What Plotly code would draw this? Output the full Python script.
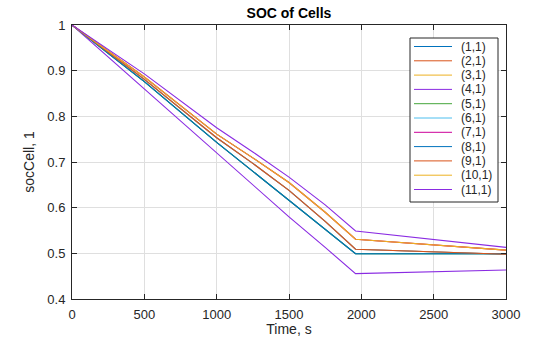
import plotly.graph_objects as go

# Simulation time samples, s
time_s = [0, 500, 1000, 1250, 1500, 1750, 1960, 3000]

# State of charge per cell
soc_1 = [1.0, 0.876, 0.743, 0.680, 0.617, 0.553, 0.499, 0.499]
soc_2 = [1.0, 0.881, 0.753, 0.697, 0.638, 0.570, 0.509, 0.498]
soc_3 = [1.0, 0.886, 0.761, 0.709, 0.655, 0.590, 0.531, 0.507]
soc_4 = [1.0, 0.860, 0.718, 0.649, 0.580, 0.513, 0.4555, 0.4635]
soc_5 = [1.0, 0.876, 0.743, 0.680, 0.617, 0.553, 0.499, 0.499]
soc_6 = [1.0, 0.881, 0.753, 0.697, 0.638, 0.570, 0.509, 0.498]
soc_7 = [1.0, 0.886, 0.761, 0.709, 0.655, 0.590, 0.531, 0.507]
soc_8 = [1.0, 0.876, 0.743, 0.680, 0.617, 0.553, 0.499, 0.499]
soc_9 = [1.0, 0.881, 0.753, 0.697, 0.638, 0.570, 0.509, 0.498]
soc_10 = [1.0, 0.886, 0.761, 0.709, 0.655, 0.590, 0.531, 0.507]
soc_11 = [1.0, 0.893, 0.775, 0.722, 0.667, 0.606, 0.549, 0.513]

series = [soc_1, soc_2, soc_3, soc_4, soc_5, soc_6, soc_7, soc_8, soc_9, soc_10, soc_11]
names = ["(1,1)", "(2,1)", "(3,1)", "(4,1)", "(5,1)", "(6,1)", "(7,1)",
         "(8,1)", "(9,1)", "(10,1)", "(11,1)"]
colors = ["#0072BD", "#D95319", "#EDB120", "#8A2BE2", "#44A63A", "#4DBEEE",
          "#CC0099", "#0072BD", "#D95319", "#EDB120", "#8A2BE2"]

x_ticks = [0, 500, 1000, 1500, 2000, 2500, 3000]
y_ticks = [0.4, 0.5, 0.6, 0.7, 0.8, 0.9, 1.0]
y_tick_text = ["0.4", "0.5", "0.6", "0.7", "0.8", "0.9", "1"]

FONT = "Liberation Sans, Arial, Helvetica, sans-serif"
INK = "#262626"
W, H = 560, 337
L, R, T, B = 72, 54, 25, 38
PW, PH = W - L - R, H - T - B

fig = go.Figure()
for vals, name, col in zip(series, names, colors):
    fig.add_trace(go.Scatter(x=time_s, y=vals, mode="lines", name=name,
                             line=dict(color=col, width=1.1), showlegend=False))

# Boxed legend drawn in paper coordinates
def px_x(p):
    return (p - L) / PW

def px_y(p):
    return (H - B - p) / PH

shapes = [dict(type="rect", xref="paper", yref="paper",
               x0=px_x(410), x1=px_x(498), y0=px_y(202), y1=px_y(38),
               line=dict(color=INK, width=1), fillcolor="white", layer="above")]
annotations = []
for i, (name, col) in enumerate(zip(names, colors)):
    yy = 46.5 + 14.3 * i
    shapes.append(dict(type="line", xref="paper", yref="paper",
                       x0=px_x(414), x1=px_x(452), y0=px_y(yy), y1=px_y(yy),
                       line=dict(color=col, width=1), layer="above"))
    annotations.append(dict(text=name, xref="paper", yref="paper",
                            x=px_x(459), y=px_y(yy), xanchor="left", yanchor="middle",
                            showarrow=False, font=dict(family=FONT, size=12, color=INK)))

axis_common = dict(showgrid=True, gridcolor="#DFDFDF", gridwidth=1,
                   showline=True, linecolor=INK, linewidth=1, mirror="ticks",
                   ticks="inside", ticklen=5, tickcolor=INK, zeroline=False,
                   ticklabelstandoff=3, automargin=False,
                   tickfont=dict(family=FONT, size=13, color=INK))

fig.update_layout(
    width=W, height=H,
    margin=dict(l=L, r=R, t=T, b=B, pad=0),
    paper_bgcolor="white", plot_bgcolor="white",
    title=dict(text="<b>SOC of Cells</b>", x=(L + PW / 2) / W, xanchor="center",
               y=1 - 13 / H, yanchor="middle", font=dict(family=FONT, size=14, color="#000000")),
    xaxis=dict(range=[0, 3000], tickvals=x_ticks,
               title=dict(text="Time, s", standoff=13,
                          font=dict(family=FONT, size=14, color=INK)),
               **axis_common),
    yaxis=dict(range=[0.4, 1.0], tickvals=y_ticks, ticktext=y_tick_text,
               title=dict(text="socCell, 1", standoff=9,
                          font=dict(family=FONT, size=14, color=INK)),
               **axis_common),
    shapes=shapes,
    annotations=annotations,
    showlegend=False,
)

fig.write_html("out.html")
